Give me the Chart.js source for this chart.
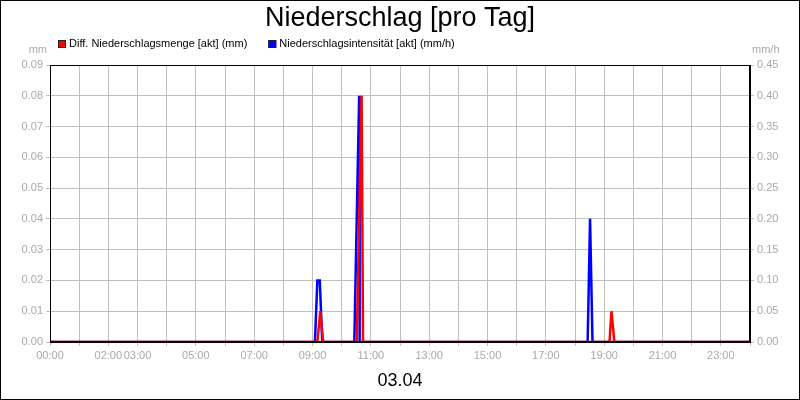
<!DOCTYPE html>
<html>
<head>
<meta charset="utf-8">
<script src="https://cdn.jsdelivr.net/npm/chart.js@4.4.0/dist/chart.umd.min.js"></script>
<style>
  html, body { margin: 0; padding: 0; background: #fff; }
  canvas { display: block; }
</style>
</head>
<body>
<canvas id="rainChart" width="800" height="400"></canvas>
<script>
// values (times hh:mm, sparse: zero stretches only at their ends)
const mengeTimes = ['00:00', '09:10', '09:16', '09:22', '10:31', '10:41', '10:44', '19:11', '19:15', '19:21', '24:00'];
const mengeValues = [0, 0, 0.01, 0, 0, 0.08, 0, 0, 0.01, 0, 0];

const intensTimes = ['00:00', '09:05', '09:10', '09:15', '09:20', '10:26', '10:36', '10:37', '18:26', '18:31', '18:36', '24:00'];
const intensValues = [0, 0, 0.1, 0.1, 0, 0, 0.4, 0, 0, 0.2, 0, 0];

const labelHours = [0, 2, 3, 5, 7, 9, 11, 13, 15, 17, 19, 21, 23];
const dayLabel = '03.04';

const toMin = t => { const p = t.split(':'); return +p[0] * 60 + +p[1]; };
const toPoints = (times, vals) => times.map((t, i) => ({ x: toMin(t), y: vals[i] }));
const pad2 = n => String(n).padStart(2, '0');

const gridGrey = '#c0c0c0';
const tickGrey = '#a8a8a8';

Chart.defaults.font.family = '"Liberation Sans", Arial, sans-serif';
Chart.defaults.font.size = 11;

// title stays with Chart.js, legend + units + frames drawn here
const extras = {
    id: 'extras',
    afterDraw(chart) {
        const c = chart.ctx;
        const a = chart.chartArea;
        c.save();
        // plot frame (top side) and outer frame
        c.strokeStyle = '#000';
        c.lineWidth = 1;
        c.strokeRect(Math.round(a.left) + 0.5, Math.round(a.top) + 0.5, Math.round(a.right - a.left) - 1, Math.round(a.bottom - a.top) - 1);
        c.strokeRect(0.5, 0.5, chart.width - 1, chart.height - 1);

        // units
        c.font = '11px "Liberation Sans", Arial, sans-serif';
        c.fillStyle = tickGrey;
        c.textBaseline = 'middle';
        c.textAlign = 'right';
        c.fillText('mm', a.left - 3, a.top - 15);
        c.textAlign = 'left';
        c.fillText('mm/h', a.right + 2, a.top - 15);

        // legend
        let x = a.left + 8;
        const y = a.top - 21;
        c.textAlign = 'left';
        chart.data.datasets.forEach(ds => {
            c.fillStyle = ds.borderColor;
            c.fillRect(x, y - 4, 8, 8);
            c.strokeStyle = '#222';
            c.strokeRect(x + 0.5, y - 3.5, 7, 7);
            c.fillStyle = '#000';
            c.fillText(ds.label, x + 11, y);
            x += 11 + c.measureText(ds.label).width + 21;
        });
        c.restore();
    }
};

const ctx_rain = document.getElementById('rainChart').getContext('2d');
const rainChart = new Chart(ctx_rain, {
    type: 'line',
    data: {
        datasets: [{
            label: 'Diff. Niederschlagsmenge [akt] (mm)',
            data: toPoints(mengeTimes, mengeValues),
            borderColor: '#ff0000',
            borderWidth: 2.5,
            pointRadius: 0,
            tension: 0,
            fill: false,
            yAxisID: 'y'
        }, {
            label: 'Niederschlagsintensität [akt] (mm/h)',
            data: toPoints(intensTimes, intensValues),
            borderColor: '#0000ff',
            borderWidth: 2.5,
            pointRadius: 0,
            tension: 0,
            fill: false,
            yAxisID: 'y2'
        }]
    },
    options: {
        responsive: false,
        maintainAspectRatio: false,
        animation: false,
        layout: { padding: 0 },
        plugins: {
            legend: { display: false },
            tooltip: { enabled: false },
            title: {
                display: true,
                text: 'Niederschlag [pro Tag]',
                color: '#000',
                font: { size: 27, weight: 'normal' },
                padding: { top: 2, bottom: 30.6 }
            }
        },
        scales: {
            x: {
                type: 'linear',
                min: 0,
                max: 1440,
                afterFit: s => { s.height = 58; s.paddingLeft = 0; s.paddingRight = 0; },
                ticks: {
                    stepSize: 60,
                    autoSkip: false,
                    maxRotation: 0,
                    padding: 3,
                    color: tickGrey,
                    callback: v => labelHours.includes(v / 60) ? pad2(v / 60) + ':00' : ''
                },
                grid: { color: gridGrey, tickLength: 4 },
                border: { color: '#000' },
                title: {
                    display: true,
                    text: dayLabel,
                    color: '#000',
                    font: { size: 18 },
                    padding: { top: 0, bottom: 8 }
                }
            },
            y: {
                position: 'left',
                min: 0,
                max: 0.09,
                afterFit: s => { s.width = 50; s.paddingTop = 0; s.paddingBottom = 0; },
                ticks: { stepSize: 0.01, padding: 3, color: tickGrey, callback: v => v.toFixed(2) },
                grid: { color: gridGrey, tickLength: 4 },
                border: { color: '#000' }
            },
            y2: {
                position: 'right',
                min: 0,
                max: 0.45,
                afterFit: s => { s.width = 50; s.paddingTop = 0; s.paddingBottom = 0; },
                ticks: { stepSize: 0.05, padding: 3, color: tickGrey, callback: v => v.toFixed(2) },
                grid: { drawOnChartArea: false, color: gridGrey, tickLength: 4 },
                border: { color: '#000' }
            }
        }
    },
    plugins: [extras]
});
</script>
</body>
</html>
